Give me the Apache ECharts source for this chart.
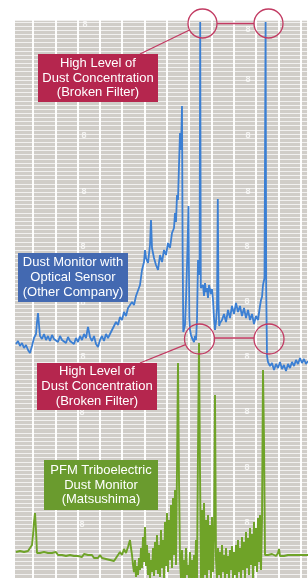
<!DOCTYPE html>
<html><head><meta charset="utf-8">
<script src="https://cdn.jsdelivr.net/npm/echarts@6/dist/echarts.min.js"></script>
<style>html,body{margin:0;padding:0;background:#fff}#c{width:308px;height:578px}</style>
</head><body><div id="c"></div>
<script>
// time (recorder units) and signal level (recorder units)
const timeRange = [0, 293];
const levelRange = [0, 558];
const paperRowStep = 4.15;

const blueTrace = [
[1,234],[3,237],[5,232],[7,235],[9,230],[11,233],[13,228],[15,225],[17,232],[19,240],[21,244],[22,256],[23,265],[24,253],[25,242],[27,239],[29,244],[31,238],[33,242],[35,237],[37,243],[39,239],[41,241],[43,236],[45,242],[47,238],[49,240],[51,235],[53,241],[55,237],[57,239],[59,234],[61,240],[63,236],[65,242],[67,238],[69,244],[71,240],[73,251],[75,241],[77,237],[79,242],[81,234],[83,231],[85,238],[87,242],[89,237],[91,244],[93,240],[95,244],[97,248],[99,246],[101,256],[103,253],[105,261],[107,258],[109,266],[111,262],[113,270],[115,268],[117,276],[119,273],[121,282],[123,280],[125,293],[127,308],[129,316],[130,328],[131,320],[133,315],[135,333],[136,358],[137,330],[139,320],[141,313],[143,308],[145,323],[147,316],[149,328],[151,323],[153,335],[155,330],[157,345],[159,350],[160,365],[161,356],[162,383],[163,378],[164,413],[165,445],[166,428],[167,472],[167.6,330],[168.3,246],[169,246],[170,253],[171,278],[172.5,330],[173.5,372],[174.3,260],[175,248],[176,243],[177,240],[179,236],[180,242],[181,238],[182,258],[183,318],[184,303],[184.6,310],[185.2,556],[185.8,290],[187,288],[188,293],[189,282],[190,295],[191,286],[192,290],[193,280],[194,293],[195,295],[196,284],[197,289],[198,278],[199,260],[200,248],[201,256],[202,270],[202.8,379],[203.5,275],[204.2,252],[205,255],[207,258],[209,264],[211,256],[213,268],[215,260],[217,272],[219,264],[221,275],[223,266],[225,272],[227,262],[229,270],[231,260],[233,268],[235,258],[237,264],[239,254],[241,262],[243,258],[245,272],[246,278],[247,281],[248,293],[249.5,300],[250.6,556],[251.2,290],[252,222],[253,216],[255,212],[257,215],[259,208],[261,214],[263,210],[265,216],[267,209],[269,213],[271,207],[273,214],[275,210],[277,216],[279,212],[281,218],[283,214],[285,220],[287,215],[289,219],[291,214],[293,217]
];

const greenTrace = [
[1,26],[3,25],[5,27],[7,25],[9,26],[11,25],[13,27],[15,26],[17,33],[18,43],[19,56],[20,65],[21,48],[22,25],[23,23],[25,25],[27,24],[29,26],[31,24],[33,25],[35,23],[37,25],[39,24],[41,26],[43,23],[45,25],[47,23],[49,24],[51,22],[53,24],[55,23],[57,25],[59,22],[61,24],[63,22],[65,23],[67,21],[69,24],[71,22],[73,23],[75,21],[77,23],[79,20],[81,22],[83,20],[85,23],[87,20],[89,22],[91,19],[93,21],[95,18],[97,20],[99,17],[101,20],[103,22],[105,26],[107,23],[109,29],[111,25],[113,31],[115,38],[116,30],[117,23],[118,13],[119,6],[120,18],[121,1],[122,12],[123,3],[124,20],[125,8],[126,30],[127,10],[128,41],[129,16],[130,51],[131,12],[132,33],[133,3],[134,25],[135,0],[136,18],[137,6],[138,30],[139,2],[140,36],[141,8],[142,43],[143,4],[144,33],[145,1],[146,48],[147,10],[148,38],[149,0],[150,56],[151,12],[152,65],[153,6],[154,58],[155,18],[156,73],[157,10],[158,80],[159,23],[160,88],[161,13],[162,108],[163,215],[164,98],[165,18],[166,0],[167,28],[168,0],[169,18],[170,0],[171,30],[172,3],[173,13],[174,0],[175,26],[176,0],[177,18],[178,0],[179,23],[180,0],[181,38],[182,0],[183,128],[184,235],[185,108],[186,0],[187,68],[188,0],[189,75],[190,3],[191,58],[192,0],[193,63],[194,8],[195,53],[196,0],[197,61],[198,6],[199,38],[200,183],[201,18],[202,0],[203,30],[204,3],[205,26],[206,0],[207,33],[208,6],[209,23],[210,0],[211,30],[212,4],[213,22],[214,0],[215,28],[216,8],[217,32],[218,0],[219,26],[220,3],[221,33],[222,0],[223,38],[224,6],[225,30],[226,0],[227,41],[228,8],[229,36],[230,0],[231,46],[232,10],[233,40],[234,3],[235,50],[236,13],[237,44],[238,0],[239,56],[240,12],[241,50],[242,6],[243,60],[244,16],[245,63],[246,8],[247,58],[248,208],[249,138],[250,23],[251,22],[253,23],[255,22],[257,24],[259,23],[261,22],[263,25],[264,29],[265,22],[267,23],[269,22],[271,24],[273,23],[275,22],[277,23],[279,24],[281,23],[283,22],[285,23],[287,24],[289,23],[291,22],[293,23]
];

const labelBroken = 'High Level of\nDust Concentration\n(Broken Filter)';
const labelOptical = 'Dust Monitor with\nOptical Sensor\n(Other Company)';
const labelPFM = 'PFM Triboelectric\nDust Monitor\n(Matsushima)';
const paperDigit = '8';

const chart = echarts.init(document.getElementById('c'));
const font = '13px "Liberation Sans", Arial, sans-serif';
const crimson = '#b5264e';
const ring = '#c23a62';

function box(x, y, w, h, color, text) {
  return [
    {type:'rect', shape:{x:x, y:y, width:w, height:h}, style:{fill:color}, z:10},
    {type:'text', x:x + w/2, y:y + h/2, z:11,
     style:{text:text, fill:'#fff', font:font, align:'center', verticalAlign:'middle', lineHeight:14.8}}
  ];
}
function circ(cx, cy, r) {
  return {type:'circle', shape:{cx:cx, cy:cy, r:r}, style:{fill:'none', stroke:ring, lineWidth:1.3}, z:10};
}
function seg(x1, y1, x2, y2) {
  return {type:'line', shape:{x1:x1, y1:y1, x2:x2, y2:y2}, style:{stroke:ring, lineWidth:1.3}, z:10};
}
function digit(x, y) {
  return {type:'text', x:x, y:y, z:1, style:{text:paperDigit, fill:'rgba(255,255,255,0.75)', font:'bold 9px "Liberation Sans", Arial, sans-serif', align:'center', verticalAlign:'middle'}};
}

chart.setOption({
  animation:false,
  backgroundColor:'#ffffff',
  grid:[
    {left:15, top:20, right:0, bottom:0, show:true, backgroundColor:'#d0cdc8', borderWidth:0},
    {left:10.7, top:20, right:0, bottom:0, show:false}
  ],
  xAxis:[
    {type:'value', gridIndex:0, min:timeRange[0], max:timeRange[1], axisLine:{show:false}, axisTick:{show:false}, axisLabel:{show:false}, splitLine:{show:false}},
    {type:'value', gridIndex:1, min:0, max:(308-10.7)/22.3, interval:1, z:1, axisLine:{show:false}, axisTick:{show:false}, axisLabel:{show:false},
     splitLine:{show:true, lineStyle:{color:'rgba(255,255,255,0.95)', width:2}}}
  ],
  yAxis:[
    {type:'value', gridIndex:0, min:levelRange[0], max:levelRange[1], interval:paperRowStep, axisLine:{show:false}, axisTick:{show:false}, axisLabel:{show:false},
     splitLine:{show:true, lineStyle:{color:'rgba(255,255,255,0.7)', width:1}}},
    {type:'value', gridIndex:1, min:0, max:1, axisLine:{show:false}, axisTick:{show:false}, axisLabel:{show:false}, splitLine:{show:false}}
  ],
  series:[
    {type:'line', name:'PFM', data:greenTrace, xAxisIndex:0, yAxisIndex:0, showSymbol:false, symbol:'none', z:5,
     lineStyle:{color:'#6fa328', width:1.9}},
    {type:'line', name:'Optical', data:blueTrace, xAxisIndex:0, yAxisIndex:0, showSymbol:false, symbol:'none', z:6,
     lineStyle:{color:'#3b7fd3', width:1.8}}
  ],
  graphic:[].concat(
    [digit(85,25), digit(84,136), digit(84,192), digit(83,247), digit(83,303), digit(83,357), digit(82,413), digit(82,525),
     digit(248,30), digit(248,80), digit(248,136), digit(248,192), digit(247,247), digit(247,302), digit(247,357), digit(247,412), digit(247,468), digit(247,523)],
    box(38, 54, 120, 48, crimson, labelBroken),
    box(18, 253, 110, 49, '#4369b1', labelOptical),
    box(37, 363, 120, 47, crimson, labelBroken),
    box(44, 460, 114, 50, '#6a9b2e', labelPFM),
    [
      circ(202.5, 23.5, 14.5), circ(268.5, 23.5, 14.5),
      seg(217, 23.5, 254, 23.5), seg(140, 54, 189.5, 30),
      circ(199.5, 339, 15), circ(269, 339, 15),
      seg(214.5, 338, 254, 338), seg(140, 363, 185.6, 344.6)
    ]
  )
});
</script>
</body></html>
